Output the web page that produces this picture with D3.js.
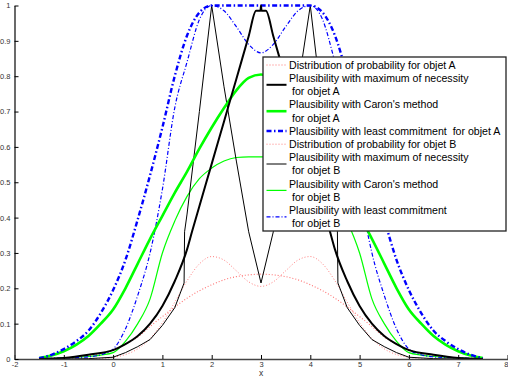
<!DOCTYPE html>
<html><head><meta charset="utf-8">
<script src="https://cdn.jsdelivr.net/npm/d3@7"></script>
<style>
html,body{margin:0;padding:0;background:#fff;}
svg{display:block;font-family:"Liberation Sans",Arial,Helvetica,sans-serif;}
</style></head>
<body><svg id="c" width="508" height="377"></svg>
<script>
// shared x grid for smooth curves
const xGrid = [-1.5,-1.25,-1,-0.75,-0.5,-0.25,0,0.25,0.5,0.75,1,1.25,1.5,1.75,2,2.25,2.5,2.75,3,
  3.25,3.5,3.75,4,4.25,4.5,4.75,5,5.25,5.5,5.75,6,6.25,6.5,6.75,7,7.25,7.5];

const probA = [0.001,0.002,0.003,0.006,0.01,0.016,0.026,0.042,0.062,0.092,0.12,0.147,0.172,0.193,0.21,0.224,0.233,0.238,0.24,
  0.238,0.233,0.224,0.21,0.193,0.172,0.147,0.12,0.092,0.062,0.042,0.026,0.016,0.01,0.006,0.003,0.002,0.001];
const probB = [0,0,0,0.0002,0.0005,0.0017,0.0048,0.0125,0.0287,0.0578,0.1027,0.1606,0.2213,0.269,0.2898,0.2798,0.2495,0.2183,0.2054,
  0.2183,0.2495,0.2798,0.2898,0.269,0.2213,0.1606,0.1027,0.0578,0.0287,0.0125,0.0048,0.0017,0.0005,0.0002,0,0,0];
const caronA = [0.003,0.01,0.022,0.04,0.065,0.1,0.14,0.2,0.27,0.34,0.405,0.47,0.53,0.595,0.655,0.71,0.76,0.795,0.805,
  0.795,0.76,0.71,0.655,0.595,0.53,0.47,0.405,0.34,0.27,0.2,0.14,0.1,0.065,0.04,0.022,0.01,0.003];
const caronB = [0,0.001,0.003,0.005,0.007,0.011,0.018,0.05,0.1,0.17,0.3,0.39,0.46,0.51,0.54,0.56,0.57,0.572,0.572,
  0.572,0.57,0.56,0.54,0.51,0.46,0.39,0.3,0.17,0.1,0.05,0.018,0.011,0.007,0.005,0.003,0.001,0];
const leastA = [0.002,0.012,0.028,0.05,0.08,0.13,0.195,0.28,0.395,0.52,0.655,0.8,0.915,0.98,1,1,1,1,1,
  1,1,1,1,0.98,0.915,0.8,0.655,0.52,0.395,0.28,0.195,0.13,0.08,0.05,0.028,0.012,0.002];
const leastB = [0,0.002,0.003,0.004,0.006,0.012,0.028,0.085,0.18,0.3,0.48,0.71,0.84,0.96,1,0.985,0.94,0.89,0.866,
  0.89,0.94,0.985,1,0.96,0.84,0.71,0.48,0.3,0.18,0.085,0.028,0.012,0.006,0.004,0.003,0.002,0];

const xMaxA = [-1.5,-1,-0.5,0,0.25,0.5,0.75,1,1.25,1.5,1.6,1.75,2,2.25,2.5,2.75,2.9,2.99,3,3.01,3.1,3.25,3.5,3.75,4,4.25,4.4,4.5,4.75,5,5.25,5.5,5.75,6,6.5,7,7.5];
const maxNecA = [0,0.003,0.012,0.025,0.042,0.065,0.1,0.15,0.22,0.31,0.36,0.432,0.552,0.672,0.792,0.913,0.985,0.985,1,0.985,0.985,0.913,0.792,0.672,0.552,0.432,0.36,0.31,0.22,0.15,0.1,0.065,0.042,0.025,0.012,0.003,0];

const xMaxB = [-1.5,-1,-0.5,0,0.25,0.5,0.75,1,1.25,1.44,1.45,1.5,1.75,2,2.25,2.5,2.75,3,3.25,3.5,3.75,4,4.25,4.5,4.55,4.56,4.75,5,5.25,5.5,5.75,6,6.5,7,7.5];
const maxNecB = [0,0,0.001,0.005,0.018,0.035,0.055,0.095,0.145,0.215,0.36,0.41,0.7,1,0.77,0.56,0.36,0.215,0.36,0.56,0.77,1,0.7,0.41,0.36,0.215,0.145,0.095,0.055,0.035,0.018,0.005,0.001,0,0];

const xTicks = [-2,-1,0,1,2,3,4,5,6,7,8];
const yTicks = [0,0.1,0.2,0.3,0.4,0.5,0.6,0.7,0.8,0.9,1];
const legendLabels = [
  ["Distribution of probability for objet A"],
  ["Plausibility with maximum of necessity"," for objet A"],
  ["Plausibility with Caron's method"," for objet A"],
  ["Plausibility with least commitment  for objet A"],
  ["Distribution of probability for objet B"],
  ["Plausibility with maximum of necessity"," for objet B"],
  ["Plausibility with Caron's method"," for objet B"],
  ["Plausibility with least commitment"," for objet B"]
];

const svg = d3.select("#c");
const x = d3.scaleLinear().domain([-2,8]).range([14.5,507.5]);
const y = d3.scaleLinear().domain([0,1]).range([359,5.5]);

const styles = {
  redA:  {stroke:"#ff4040", w:1.1, dash:"1,2", op:0.75},
  blackA:{stroke:"#000", w:2, dash:null, op:1},
  greenA:{stroke:"#00ff00", w:2.6, dash:null, op:1},
  blueA: {stroke:"#0000ff", w:2.4, dash:"5,2.5,1.5,2.5", op:1},
  redB:  {stroke:"#ff4040", w:0.9, dash:"1,2", op:0.75},
  blackB:{stroke:"#000", w:1, dash:null, op:1},
  greenB:{stroke:"#00ff00", w:1.2, dash:null, op:1},
  blueB: {stroke:"#0000ff", w:1.2, dash:"4,2,1,2", op:1}
};

const series = [
  {xs:xGrid, ys:probA, s:styles.redA, curve:d3.curveMonotoneX},
  {xs:xGrid, ys:probB, s:styles.redB, curve:d3.curveMonotoneX},
  {xs:xGrid, ys:caronB, s:styles.greenB, curve:d3.curveMonotoneX},
  {xs:xGrid, ys:leastB, s:styles.blueB, curve:d3.curveMonotoneX},
  {xs:xMaxB, ys:maxNecB, s:styles.blackB, curve:d3.curveLinear},
  {xs:xGrid, ys:caronA, s:styles.greenA, curve:d3.curveMonotoneX},
  {xs:xGrid, ys:leastA, s:styles.blueA, curve:d3.curveMonotoneX},
  {xs:xMaxA, ys:maxNecA, s:styles.blackA, curve:d3.curveMonotoneX}
];

series.forEach(sr => {
  const pts = sr.xs.map((v,i)=>[v, sr.ys[i]]);
  const line = d3.line().x(d=>x(d[0])).y(d=>y(d[1])).curve(sr.curve);
  const p = svg.append("path").attr("d", line(pts)).attr("fill","none")
    .attr("stroke", sr.s.stroke).attr("stroke-width", sr.s.w).attr("stroke-opacity", sr.s.op)
    .attr("stroke-linejoin","round");
  if (sr.s.dash) p.attr("stroke-dasharray", sr.s.dash);
});

// axes
const xAxis = d3.axisBottom(x).tickValues(xTicks).tickSizeInner(-4).tickSizeOuter(0).tickPadding(2.5).tickFormat(d3.format("d"));
const yAxis = d3.axisLeft(y).tickValues(yTicks).tickSizeInner(-4).tickSizeOuter(0).tickPadding(4).tickFormat(d=> d===0?"0":d===1?"1":d3.format(".1f")(d));
const gx = svg.append("g").attr("transform","translate(0,359)").call(xAxis);
const gy = svg.append("g").attr("transform","translate(14.5,0)").call(yAxis);
[gx,gy].forEach(g=>{
  g.select(".domain").attr("stroke","#444").attr("stroke-width",1.6);
  g.selectAll(".tick line").attr("stroke","#000");
  g.selectAll(".tick text").attr("fill","#333").style("font-size","7.5px").style("font-family","Liberation Sans, Arial, sans-serif");
});
gx.selectAll(".tick text").text(d=> d<0 ? "-"+Math.abs(d) : d)
  .attr("text-anchor", d=> d===8 ? "end" : "middle")
  .attr("x", d=> d===8 ? 0.5 : 0);
svg.append("text").attr("x",261).attr("y",376).attr("text-anchor","middle")
  .attr("fill","#333").style("font-size","8.5px").text("x");

// legend
const lg = svg.append("g");
lg.append("rect").attr("x",263).attr("y",57).attr("width",243).attr("height",174)
  .attr("fill","#fff").attr("stroke","#222").attr("stroke-width",1.3);
const order = ["redA","blackA","greenA","blueA","redB","blackB","greenB","blueB"];
let row = 0;
const lineH = 13.2, top0 = 65;
legendLabels.forEach((lab,i)=>{
  const yc0 = top0 + row*lineH;
  const ycLine = yc0 + (lab.length-1)*lineH/2;
  const s = styles[order[i]];
  const ln = lg.append("line").attr("x1",266.5).attr("x2",286.5).attr("y1",ycLine).attr("y2",ycLine)
    .attr("stroke",s.stroke).attr("stroke-width",s.w).attr("stroke-opacity",s.op);
  if (s.dash) ln.attr("stroke-dasharray", s.dash);
  lab.forEach((t,j)=>{
    lg.append("text").attr("x",289).attr("y",yc0 + j*lineH + 3.7)
      .attr("fill","#000").style("font-size","10.6px").style("white-space","pre")
      .attr("xml:space","preserve").text(t);
  });
  row += lab.length;
});
</script></body></html>
